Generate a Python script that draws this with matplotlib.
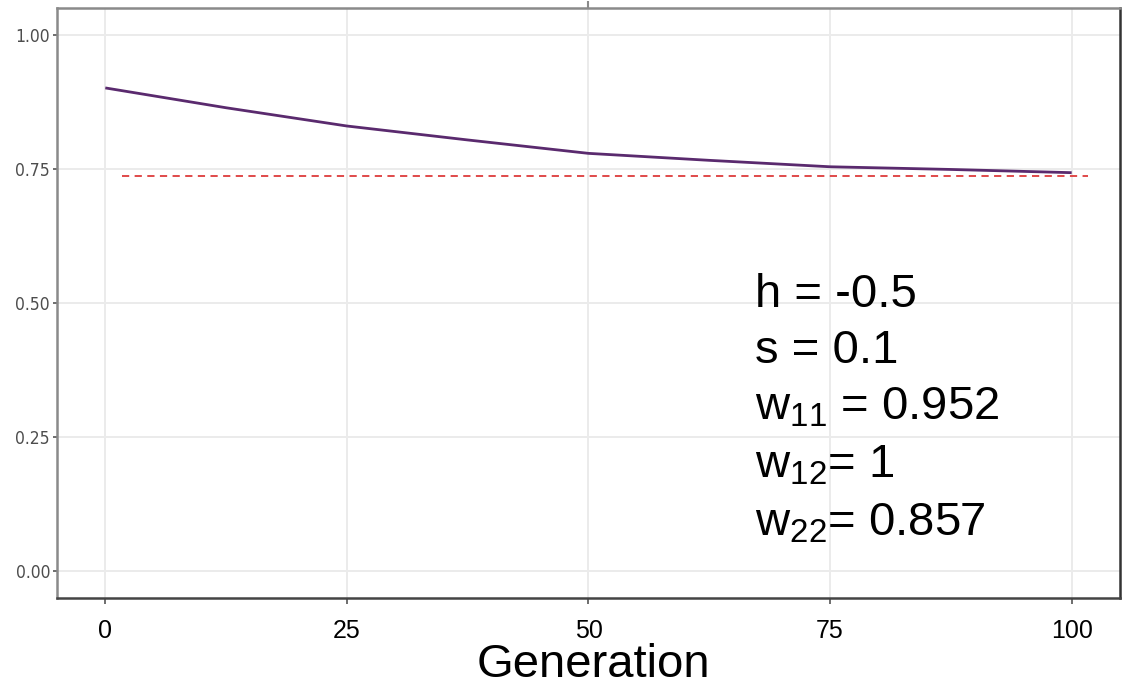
import matplotlib
matplotlib.use('Agg')
import matplotlib.pyplot as plt
from matplotlib import font_manager

# values
generation = [0, 12.5, 25, 37.5, 50, 62.5, 75, 87.5, 100]
freq = [0.901, 0.864, 0.830, 0.804, 0.779, 0.766, 0.754, 0.749, 0.743]
equilibrium = 0.737
eq_span = [1.7, 101.7]

x_ticks = [0, 25, 50, 75, 100]
y_ticks = [0.00, 0.25, 0.50, 0.75, 1.00]
y_tick_labels = ['0.00', '0.25', '0.50', '0.75', '1.00']
param_lines = ['h = -0.5', 's = 0.1', 'w$_{11}$ = 0.952', 'w$_{12}$= 1', 'w$_{22}$= 0.857']
param_y = [0.4925, 0.388, 0.282, 0.174, 0.067]
param_x = 67.2

plt.rcParams['font.family'] = ['Liberation Sans', 'DejaVu Sans']
plt.rcParams['mathtext.fontset'] = 'custom'
plt.rcParams['mathtext.rm'] = 'Liberation Sans'
plt.rcParams['mathtext.it'] = 'Liberation Sans'
plt.rcParams['mathtext.default'] = 'regular'

# narrow font for the y tick labels, if one is installed
names = {f.name: f for f in font_manager.fontManager.ttflist}
narrow = None
if 'Liberation Sans Narrow' in names:
    narrow = dict(family='Liberation Sans Narrow', size=14)
else:
    for f in font_manager.fontManager.ttflist:
        if f.name == 'DejaVu Sans' and f.stretch == 'condensed' and f.weight in (400, 'normal') and f.style == 'normal':
            narrow = dict(family='DejaVu Sans', stretch='condensed', size=12.5)
            break
if narrow is None:
    narrow = dict(family='Liberation Sans', size=12)

fig = plt.figure(figsize=(11.33, 6.89), dpi=100)
ax = fig.add_axes([0.0503, 0.132, 0.9382, 0.8564])

ax.plot(generation, freq, color='#5a2a6e', lw=2, solid_capstyle='butt', zorder=3)
ax.plot(eq_span, [equilibrium, equilibrium], color='#dd3b3b', lw=1.3,
        linestyle=(0, (4, 3)), zorder=2)

ax.set_xlim(-5, 105)
ax.set_ylim(-0.05, 1.05)
ax.set_xticks(x_ticks)
ax.set_yticks(y_ticks)
ax.set_yticklabels(y_tick_labels, **narrow)
ax.grid(True, color='#ebebeb', lw=1.4)
ax.set_axisbelow(True)

ax.tick_params(axis='y', labelcolor='#4d4d4d', length=3,
               width=1.2, color='#555555', pad=2)
ax.tick_params(axis='x', labelsize=18, labelcolor='black', length=4,
               width=1.2, color='#555555', pad=11)

ax.spines['left'].set_color('#8a8a8a')
ax.spines['top'].set_color('#8a8a8a')
ax.spines['right'].set_color('#333333')
ax.spines['bottom'].set_color('#444444')
for sp in ax.spines.values():
    sp.set_linewidth(1.8)

top = ax.secondary_xaxis('top')
top.set_xticks([50])
top.set_xticklabels([''])
top.tick_params(length=5, width=1.5, color='#8a8a8a')
top.spines['top'].set_visible(False)

fig.text(0.5234, 0.0174, 'Generation', fontsize=34, ha='center', va='baseline')

for txt, yy in zip(param_lines, param_y):
    ax.text(param_x, yy, txt, fontsize=34, va='baseline', ha='left', color='black')

fig.savefig('out.png', dpi=100)
